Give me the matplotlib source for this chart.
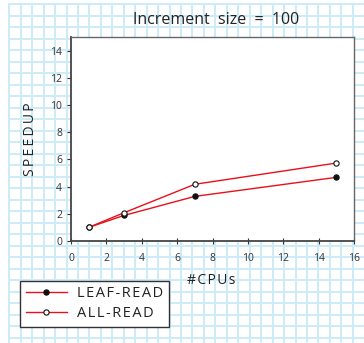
import matplotlib
matplotlib.use("Agg")
import matplotlib.pyplot as plt

cpus_leaf = [1, 3, 7, 15]
speedup_leaf = [1.0, 1.88, 3.28, 4.68]
cpus_all = [1, 3, 7, 15]
speedup_all = [1.0, 2.08, 4.17, 5.73]
xticks = [0, 2, 4, 6, 8, 10, 12, 14, 16]
yticks = [0, 2, 4, 6, 8, 10, 12, 14]

def spaced(s, sp="\u2009"):
    return sp.join(list(s))

plt.rcParams['font.family'] = ['Open Sans', 'DejaVu Sans']
W, H = 364, 343
fig = plt.figure(figsize=(W/100, H/100), dpi=100)
fig.patch.set_facecolor('white')

# graph-paper background
bg = fig.add_axes([0, 0, 1, 1], zorder=-10)
bg.set_xlim(0, W); bg.set_ylim(H, 0); bg.axis('off')
gc = '#cdebf8'
x = 9.3
while x < W:
    bg.plot([x, x], [4, H], color=gc, lw=1.4)
    x += 11.45
y = 4.0
while y < H:
    bg.plot([9.3, W], [y, y], color=gc, lw=1.4)
    y += 11.5

ax = fig.add_axes([71/W, 1-241/H, (354-71)/W, (241-37)/H])
ax.set_facecolor('white')
ax.plot(cpus_leaf, speedup_leaf, color='#e8101a', lw=1.0, marker='o', ms=3.8,
        mfc='#111111', mec='#111111', mew=0.8, label=spaced('LEAF-READ', '\u200a'))
ax.plot(cpus_all, speedup_all, color='#e8101a', lw=1.0, marker='o', ms=3.8,
        mfc='white', mec='#111111', mew=0.8, label=spaced('ALL-READ', '\u200a'))
ax.set_xlim(0, 16)
ax.set_ylim(0, 15)
ax.set_xticks(xticks)
ax.set_yticks(yticks)
ax.tick_params(axis='both', labelsize=7.5, colors='#333333', length=3, width=0.8)
ax.tick_params(axis='x', direction='inout', length=5, pad=6)
for sp in ax.spines.values():
    sp.set_color('#666666'); sp.set_linewidth(1.0)
ax.spines['left'].set_color('#444444')
ax.spines['bottom'].set_color('#444444')
ax.spines['left'].set_linewidth(1.3)
ax.spines['bottom'].set_linewidth(1.3)

fig.text(216/W, 1-20/H, 'Increment  size  =  100', ha='center', va='center',
         fontsize=11.5, color='#222222')
fig.text(30/W, 1-139/H, spaced('SPEEDUP'), rotation=90, ha='center', va='center',
         fontsize=10, color='#222222')
fig.text(211/W, 1-281/H, spaced('#CPUs', '\u200a'), ha='center', va='center',
         fontsize=10, color='#222222')

leg = fig.legend(loc='upper left', bbox_to_anchor=(20/W, 1-280.5/H), fontsize=10.5,
                 frameon=True, fancybox=False, edgecolor='#333333', framealpha=1,
                 borderpad=0.4, handlelength=2.8, labelspacing=0.35, handletextpad=0.7,
                 borderaxespad=0)
leg.get_frame().set_linewidth(1.0)
for t in leg.get_texts():
    t.set_color('#222222')

fig.savefig('out.png', dpi=100, facecolor='white')
